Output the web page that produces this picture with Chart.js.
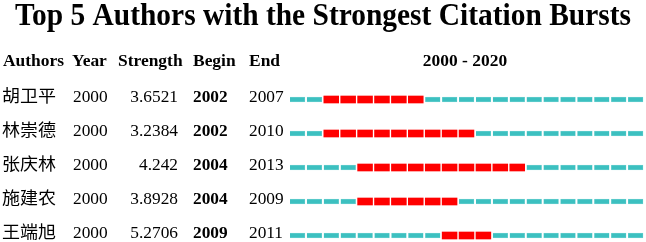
<!DOCTYPE html>
<html>
<head>
<meta charset="utf-8">
<script src="https://cdn.jsdelivr.net/npm/chart.js@4.4.0/dist/chart.umd.min.js"></script>
<style>
  html, body { margin: 0; padding: 0; background: #fff; }
  #wrap { width: 646px; height: 242px; }
</style>
</head>
<body>
<div id="wrap"><canvas id="burstChart" width="646" height="242"></canvas></div>
<script>
// burst table data
var authors = ['胡卫平', '林崇德', '张庆林', '施建农', '王端旭'];
var years = [2000, 2000, 2000, 2000, 2000];
var strengths = ['3.6521', '3.2384', '4.242', '3.8928', '5.2706'];
var begins = [2002, 2002, 2004, 2004, 2009];
var ends = [2007, 2010, 2013, 2009, 2011];
var firstYear = 2000;
var lastYear = 2020;
var chartTitle = 'Top 5 Authors with the Strongest Citation Bursts';

var gap = 0.06;
var baseSegs = [];
var burstSegs = [];
for (var i = 0; i < authors.length; i++) {
    for (var y = firstYear; y <= lastYear; y++) {
        if (y >= begins[i] && y <= ends[i]) {
            burstSegs.push({ x: [y + gap, y + 1 - gap], y: i });
        } else {
            baseSegs.push({ x: [y + gap, y + 1 - gap], y: i });
        }
    }
}

var serif = '"Liberation Serif", "Times New Roman", serif';
var cjk = '"Noto Sans CJK SC", sans-serif';

// text with a horizontal stretch factor
function stretchText(ctx, text, x, y, align, sx) {
    ctx.save();
    ctx.translate(x, y);
    ctx.scale(sx, 1);
    ctx.textAlign = align;
    ctx.fillText(text, 0, 0);
    ctx.restore();
}

var tableText = {
    id: 'tableText',
    afterDraw: function (chart) {
        var ctx = chart.ctx;
        var ys = chart.scales.y;
        ctx.save();
        ctx.fillStyle = '#000';
        ctx.textBaseline = 'alphabetic';
        // title
        ctx.font = 'bold 32px ' + serif;
        stretchText(ctx, chartTitle, 323, 25, 'center', 0.92);
        // header
        var hy = 66;
        ctx.font = 'bold 16px ' + serif;
        var hs = 1.09;
        stretchText(ctx, 'Authors', 3, hy, 'left', hs);
        stretchText(ctx, 'Year', 72, hy, 'left', hs);
        stretchText(ctx, 'Strength', 118, hy, 'left', hs);
        stretchText(ctx, 'Begin', 193, hy, 'left', hs);
        stretchText(ctx, 'End', 249, hy, 'left', hs);
        stretchText(ctx, firstYear + ' - ' + lastYear, 465, hy, 'center', hs);
        // rows
        for (var i = 0; i < authors.length; i++) {
            var py = ys.getPixelForValue(i) + 2;
            ctx.font = '17px ' + cjk;
            stretchText(ctx, authors[i], 2, py + 0.5, 'left', 1.06);
            ctx.font = '16.5px ' + serif;
            stretchText(ctx, String(years[i]), 73, py, 'left', 1.05);
            stretchText(ctx, strengths[i], 178, py, 'right', 1.05);
            ctx.font = 'bold 16.5px ' + serif;
            stretchText(ctx, String(begins[i]), 193, py, 'left', 1.05);
            ctx.font = '16.5px ' + serif;
            stretchText(ctx, String(ends[i]), 249, py, 'left', 1.05);
        }
        ctx.restore();
    }
};

var ctx = document.getElementById('burstChart').getContext('2d');
var burstChart = new Chart(ctx, {
    type: 'bar',
    data: {
        datasets: [{
            label: 'burst',
            data: burstSegs,
            backgroundColor: '#ff0000',
            borderWidth: 0,
            barThickness: 7,
            grouped: false,
            clip: false,
            order: 0
        }, {
            label: 'base',
            data: baseSegs,
            backgroundColor: '#3cc0c0',
            borderColor: '#8ad8d8',
            borderWidth: 0.5,
            barThickness: 5,
            grouped: false,
            clip: false,
            order: 1
        }]
    },
    options: {
        indexAxis: 'y',
        responsive: false,
        animation: false,
        layout: { padding: { left: 289, right: 2, top: 99.5, bottom: 6.5 } },
        scales: {
            x: { type: 'linear', min: firstYear, max: lastYear + 1, display: false },
            y: { type: 'linear', min: 0, max: authors.length - 1, reverse: true, offset: false, display: false }
        },
        plugins: {
            legend: { display: false },
            tooltip: { enabled: false },
            title: { display: false }
        }
    },
    plugins: [tableText]
});
</script>
</body>
</html>
